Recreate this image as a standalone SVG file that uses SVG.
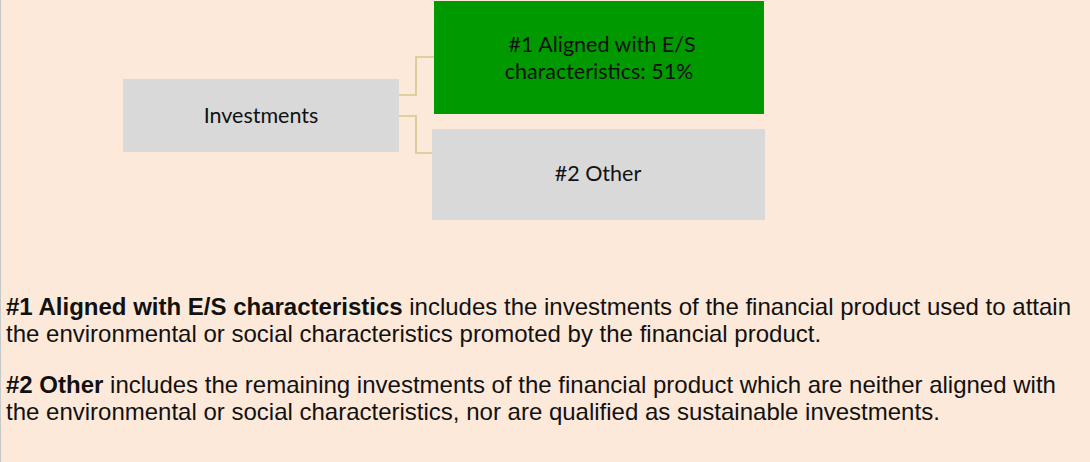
<svg xmlns="http://www.w3.org/2000/svg" width="1090" height="462" viewBox="0 0 1090 462">
<style>
.node-label{font-family:Lato,"Open Sans",sans-serif;font-size:21.5px;fill:#111;text-anchor:middle}
.body{font-family:"Liberation Sans",Arial,sans-serif;font-size:24px;fill:#111}
.conn{fill:none;stroke:#D6C68C;stroke-width:1.6}
</style>
<rect x="0" y="0" width="1090" height="462" fill="#FDE9D9"/>
<line x1="0.5" y1="0" x2="0.5" y2="462" stroke="#C8C8C8" stroke-width="1"/>
<g id="connectors">
<polyline class="conn" points="399,95 416,95 416,57 434,57"/>
<polyline class="conn" points="399,116 416,116 416,153 432,153"/>
</g>
<g id="investments">
<rect x="123" y="79" width="276" height="73" fill="#D9D9D9"/>
<text class="node-label" x="261" y="123">Investments</text>
</g>
<g id="aligned">
<rect x="434" y="1" width="330" height="113" fill="#009900"/>
<text class="node-label" x="602" y="52">#1 Aligned with E/S</text>
<text class="node-label" x="599" y="79">characteristics: 51%</text>
</g>
<g id="other">
<rect x="432" y="129" width="333" height="91" fill="#D9D9D9"/>
<text class="node-label" x="598" y="181">#2 Other</text>
</g>
<g id="legend">
<text class="body" x="6" y="315"><tspan font-weight="bold">#1 Aligned with E/S characteristics</tspan> includes the investments of the financial product used to attain</text>
<text class="body" x="6" y="342">the environmental or social characteristics promoted by the financial product.</text>
<text class="body" x="6" y="393"><tspan font-weight="bold">#2 Other</tspan> includes the remaining investments of the financial product which are neither aligned with</text>
<text class="body" x="6" y="420">the environmental or social characteristics, nor are qualified as sustainable investments.</text>
</g>
</svg>
